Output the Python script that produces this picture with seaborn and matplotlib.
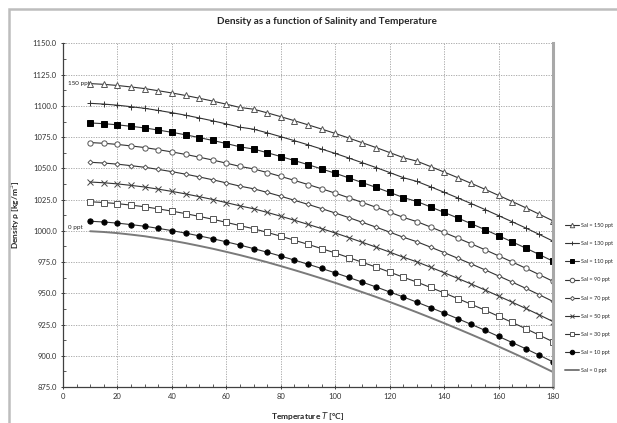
import numpy as np
import matplotlib
matplotlib.use("Agg")
import matplotlib.pyplot as plt
from matplotlib.patches import Rectangle
from matplotlib.ticker import MultipleLocator, FormatStrFormatter
import seaborn as sns

# temperature (deg C) for every marker
temps = list(range(10, 185, 5))

sal_0 = [999.7, 999.1, 998.2, 997.0, 995.7, 994.0, 992.2, 990.2, 988.0, 985.7, 983.2, 980.6,
         977.8, 974.9, 971.8, 968.6, 965.3, 961.9, 958.4, 954.7, 950.9, 947.1, 943.1, 939.0,
         934.8, 930.5, 926.1, 921.6, 917.0, 912.3, 907.4, 902.5, 897.5, 892.3, 887.0]
sal_10 = [1007.7, 1007.1, 1006.2, 1005.0, 1003.7, 1002.0, 1000.2, 998.2, 996.0, 993.7, 991.2, 988.6,
          985.8, 982.9, 979.8, 976.6, 973.3, 969.9, 966.4, 962.7, 958.9, 955.1, 951.1, 947.1,
          942.9, 938.6, 934.2, 929.7, 925.1, 920.4, 915.5, 910.6, 905.6, 900.4, 895.1]
sal_30 = [1023.3, 1022.7, 1021.8, 1020.6, 1019.3, 1017.6, 1015.8, 1013.8, 1011.6, 1009.3, 1006.8, 1004.2,
          1001.7, 998.8, 995.7, 992.5, 989.2, 985.8, 982.3, 978.6, 974.8, 971.0, 967.0, 962.9,
          959.0, 954.7, 950.3, 945.8, 941.2, 936.5, 931.6, 926.7, 921.7, 916.5, 911.2]
sal_50 = [1039.1, 1038.5, 1037.6, 1036.4, 1035.1, 1033.4, 1031.6, 1029.6, 1027.4, 1025.1, 1022.6, 1020.0,
          1017.7, 1014.8, 1011.7, 1008.5, 1005.2, 1001.8, 998.3, 994.6, 990.8, 987.0, 983.0, 978.9,
          975.2, 970.9, 966.5, 962.0, 957.4, 952.7, 947.8, 942.9, 937.9, 932.7, 927.4]
sal_70 = [1054.9, 1054.3, 1053.4, 1052.2, 1050.9, 1049.2, 1047.4, 1045.4, 1043.2, 1040.9, 1038.4, 1035.8,
          1033.7, 1030.8, 1027.7, 1024.5, 1021.2, 1017.8, 1014.3, 1010.6, 1006.8, 1003.0, 999.0, 994.9,
          991.3, 987.0, 982.6, 978.1, 973.5, 968.8, 963.9, 959.0, 954.0, 948.8, 943.5]
sal_90 = [1070.7, 1070.1, 1069.2, 1068.0, 1066.7, 1065.0, 1063.2, 1061.2, 1059.0, 1056.7, 1054.2, 1051.6,
          1049.6, 1046.7, 1043.6, 1040.4, 1037.1, 1033.7, 1030.2, 1026.5, 1022.7, 1018.9, 1014.9, 1010.8,
          1007.4, 1003.1, 998.7, 994.2, 989.6, 984.9, 980.0, 975.1, 970.1, 964.9, 959.6]
sal_110 = [1086.4, 1085.8, 1084.9, 1083.7, 1082.4, 1080.7, 1078.9, 1076.9, 1074.7, 1072.4, 1069.9, 1067.3,
           1065.5, 1062.6, 1059.5, 1056.3, 1053.0, 1049.6, 1046.1, 1042.4, 1038.6, 1034.8, 1030.8, 1026.7,
           1023.5, 1019.2, 1014.8, 1010.3, 1005.7, 1001.0, 996.1, 991.2, 986.2, 981.0, 975.7]
sal_130 = [1102.1, 1101.5, 1100.6, 1099.4, 1098.1, 1096.4, 1094.6, 1092.6, 1090.4, 1088.1, 1085.6, 1083.0,
           1081.4, 1078.5, 1075.4, 1072.2, 1068.9, 1065.5, 1062.0, 1058.3, 1054.5, 1050.7, 1046.7, 1042.6,
           1039.6, 1035.3, 1030.9, 1026.4, 1021.8, 1017.1, 1012.2, 1007.3, 1002.3, 997.1, 991.8]
sal_150 = [1117.9, 1117.3, 1116.4, 1115.2, 1113.9, 1112.2, 1110.4, 1108.4, 1106.2, 1103.9, 1101.4, 1098.8,
           1097.4, 1094.5, 1091.4, 1088.2, 1084.9, 1081.5, 1078.0, 1074.3, 1070.5, 1066.7, 1062.7, 1058.6,
           1055.8, 1051.5, 1047.1, 1042.6, 1038.0, 1033.3, 1028.4, 1023.5, 1018.5, 1013.3, 1008.0]

labels = ["Sal = 150 ppt", "Sal = 130 ppt", "Sal = 110 ppt", "Sal = 90 ppt", "Sal = 70 ppt",
          "Sal = 50 ppt", "Sal = 30 ppt", "Sal = 10 ppt", "Sal = 0 ppt"]
series = [sal_150, sal_130, sal_110, sal_90, sal_70, sal_50, sal_30, sal_10, sal_0]

sns.set_style("white")
plt.rcParams['font.family'] = ['Lato', 'DejaVu Sans']

# marker, marker face, marker edge, size
styles = [
    ("^", "white", "#555555", 3.8),
    ("+", "#333333", "#333333", 4.2),
    ("s", "black", "black", 3.8),
    ("o", "white", "#555555", 3.8),
    ("D", "white", "#555555", 2.5),
    ("x", "#444444", "#444444", 3.8),
    ("s", "white", "#555555", 3.8),
    ("o", "black", "black", 3.8),
]

fig = plt.figure(figsize=(6.17, 4.23), dpi=100)
ax = fig.add_axes([63 / 617, 1 - 387 / 423, (553 - 63) / 617, (387 - 43.5) / 423])

for i in range(8):
    m, fc, ec, ms = styles[i]
    sns.lineplot(x=temps, y=series[i], ax=ax, color="#333333", linewidth=0.8,
                 marker=m, markerfacecolor=fc, markeredgecolor=ec, markersize=ms,
                 markeredgewidth=0.7, label=labels[i])
sns.lineplot(x=temps, y=sal_0, ax=ax, color="#7a7a7a", linewidth=1.4, label=labels[8])

ax.set_xlim(0, 180)
ax.set_ylim(875, 1150)
ax.xaxis.set_major_locator(MultipleLocator(20))
ax.xaxis.set_minor_locator(MultipleLocator(5))
ax.yaxis.set_major_locator(MultipleLocator(25))
ax.yaxis.set_minor_locator(MultipleLocator(12.5))
ax.yaxis.set_major_formatter(FormatStrFormatter('%.1f'))
ax.grid(True, which='major', color='#a0a0a0', linestyle=(0, (1.5, 1.5)), linewidth=0.6)
ax.tick_params(axis='both', which='major', labelsize=5.5, labelcolor='#333333',
               length=3, direction='inout', color='#404040', width=0.7, pad=3)
ax.tick_params(axis='both', which='minor', length=2, direction='in', color='#404040', width=0.6)
ax.tick_params(axis='x', which='both', bottom=True)
ax.tick_params(axis='y', which='both', left=True)

for s in ['left', 'bottom']:
    ax.spines[s].set_color('#404040')
    ax.spines[s].set_linewidth(0.9)
ax.spines['top'].set_visible(False)
ax.spines['right'].set_color('#a8a8a8')
ax.spines['right'].set_linewidth(2.2)

ax.set_xlabel("Temperature $T$ [°C]", fontsize=6, fontweight='bold', labelpad=7)
ax.set_ylabel("Density ρ [kg/m$^3$]", fontsize=6, fontweight='bold', labelpad=8)
fig.text(0.53, 1 - 21 / 423, "Density as a function of Salinity and Temperature",
         ha='center', va='center', fontsize=7.2, fontweight='bold')

ax.text(1.7, sal_150[0], "150 ppt", fontsize=4.5, va='center', ha='left', color='#222222')
ax.text(1.7, 1000.5, "0 ppt", fontsize=4.5, va='bottom', ha='left', color='#222222')

ax.legend(loc='center left', bbox_to_anchor=(565 / 617, 1 - 298 / 423),
          bbox_transform=fig.transFigure, frameon=False, fontsize=4.0,
          handlelength=2.5, handletextpad=0.4, labelspacing=2.35, borderaxespad=0,
          borderpad=0, markerscale=0.85)

# chart frame
fig.patches.append(Rectangle((9 / 617, -0.1), 1.2, 1 - 9 / 423 + 0.1, transform=fig.transFigure,
                             fill=False, edgecolor='#bdbdbd', linewidth=1.8))

fig.savefig("out.png", dpi=100)
